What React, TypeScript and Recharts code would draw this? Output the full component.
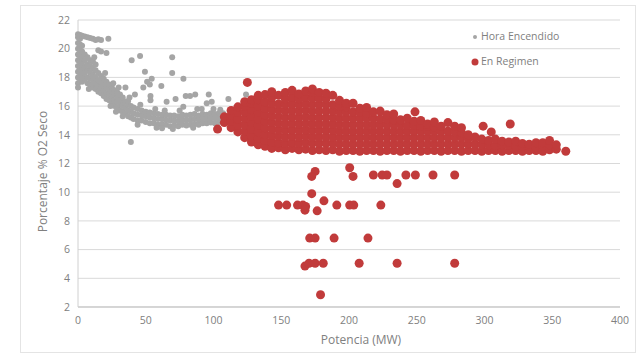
import React from "react";
import {
  ScatterChart,
  Scatter,
  XAxis,
  YAxis,
  CartesianGrid,
  Legend,
  Label,
} from "recharts";

// Potencia (MW) vs Porcentaje % O2 Seco.
// The dense clouds are listed as columns: [potencia, [o2, o2, ...]]

const horaEncendidoColumnas: [number, number[]][] = [
  [0, [17.6, 18.0, 18.4, 18.8, 19.2, 19.6, 20.0, 20.4, 20.8, 21.0]],
  [1.5, [17.9, 18.3, 18.7, 19.1, 19.5, 19.9, 20.3, 20.7, 20.95]],
  [3, [17.7, 18.1, 18.5, 18.9, 19.3, 19.8, 20.2, 20.9]],
  [5, [17.9, 18.3, 18.7, 19.2, 19.6, 20.85]],
  [7, [17.6, 18.0, 18.5, 18.9, 19.4, 20.8]],
  [9, [17.5, 17.9, 18.3, 18.8, 19.2, 20.75]],
  [11, [17.3, 17.8, 18.2, 18.6, 19.1, 20.7]],
  [13, [17.2, 17.6, 18.0, 18.5, 18.9, 20.6]],
  [15, [17.0, 17.4, 17.8, 18.3, 20.65]],
  [17, [16.9, 17.3, 17.7, 18.1, 20.6]],
  [19, [16.7, 17.1, 17.5, 17.9]],
  [21, [16.5, 16.9, 17.3, 17.7]],
  [23, [16.4, 16.8, 17.2, 17.5]],
  [25, [16.2, 16.6, 17.0, 17.3]],
  [27, [16.0, 16.4, 16.8, 17.1]],
  [29, [15.9, 16.3, 16.7, 16.95]],
  [31, [15.7, 16.1, 16.5, 16.8]],
  [33, [15.6, 16.0, 16.4, 16.6]],
  [35, [15.5, 15.9, 16.3]],
  [37, [15.3, 15.7, 16.1, 16.35]],
  [39, [15.2, 15.6, 16.0]],
  [41, [15.1, 15.5, 15.9]],
  [44, [15.0, 15.4, 15.8]],
  [47, [15.0, 15.35, 15.7]],
  [50, [14.9, 15.3, 15.6]],
  [53, [14.8, 15.2, 15.55]],
  [56, [14.8, 15.15, 15.5]],
  [59, [14.7, 15.1, 15.45]],
  [62, [14.75, 15.1, 15.4]],
  [65, [14.7, 15.05, 15.4]],
  [68, [14.6, 15.0, 15.35]],
  [71, [14.65, 15.0, 15.35]],
  [74, [14.6, 14.95, 15.3]],
  [77, [14.7, 15.05, 15.4]],
  [80, [14.65, 15.0, 15.35]],
  [83, [14.7, 15.05, 15.4]],
  [86, [14.75, 15.1, 15.45]],
  [89, [14.7, 15.05, 15.35]],
  [92, [14.8, 15.15, 15.45]],
  [95, [14.8, 15.1, 15.4]],
  [98, [14.85, 15.2, 15.5]],
  [101, [14.8, 15.15, 15.45]],
  [104, [14.9, 15.2, 15.5]],
  [107, [14.9, 15.25, 15.5]],
  [110, [15.0, 15.3]],
  [113, [15.0, 15.35]],
];

const horaEncendidoSueltos: [number, number][] = [
  [22.4, 20.7], [15, 19.9], [17, 19.8], [21, 19.7], [39.6, 19.2], [45.8, 19.5],
  [69.5, 19.4], [49.4, 18.4], [69.5, 18.3], [77.8, 17.9], [54.4, 17.9], [51, 17.7],
  [48.2, 17.3], [53, 17.5], [61.5, 17.4], [35, 17.3], [42, 16.8], [53.5, 16.7],
  [53.5, 16.4], [65.4, 16.3], [72, 16.5], [79.5, 16.7], [82.7, 16.7], [86.5, 16.8],
  [96.5, 16.8], [111, 16.5], [124, 16.8], [77.7, 15.95], [88, 15.8], [91.3, 15.8],
  [95, 16.2], [98.7, 16.3], [39, 13.5], [0, 17.3],
  [20, 18.3], [26, 17.6], [30, 17.3], [33, 15.3], [44, 14.7], [58, 14.5], [64, 15.7],
  [70, 14.4], [75, 15.7], [85, 14.5], [100, 15.8], [105, 15.75], [28, 15.6], [38, 16.6],
  [46, 16.1], [57, 15.8], [8, 17.2], [12, 19.4], [24, 16.0], [62, 14.45],
];

const regimenColumnas: [number, number[]][] = [
  [108, [14.85, 15.25]],
  [113, [14.5, 14.95, 15.35, 15.7]],
  [118, [14.2, 14.65, 15.1, 15.55, 15.95]],
  [123, [13.8, 14.25, 14.7, 15.15, 15.6, 16.0, 16.3]],
  [128, [13.5, 13.95, 14.4, 14.85, 15.3, 15.75, 16.2, 16.45]],
  [133, [13.3, 13.75, 14.2, 14.65, 15.1, 15.55, 16.0, 16.45, 16.75]],
  [138, [13.2, 13.6, 14.05, 14.5, 14.95, 15.4, 15.85, 16.3, 16.8]],
  [143, [13.05, 13.5, 13.95, 14.4, 14.85, 15.3, 15.75, 16.2, 16.6, 17.0]],
  [148, [13.1, 13.45, 13.9, 14.35, 14.8, 15.25, 15.7, 16.15, 16.75]],
  [153, [12.95, 13.4, 13.85, 14.3, 14.75, 15.2, 15.65, 16.1, 16.5, 16.95]],
  [158, [13.05, 13.45, 13.9, 14.35, 14.8, 15.25, 15.7, 16.15, 16.6, 17.1]],
  [163, [12.95, 13.4, 13.85, 14.3, 14.75, 15.2, 15.65, 16.1, 16.5, 16.85]],
  [168, [13.0, 13.45, 13.9, 14.35, 14.8, 15.25, 15.7, 16.15, 16.6, 17.05]],
  [173, [12.9, 13.4, 13.85, 14.3, 14.75, 15.2, 15.65, 16.1, 16.55, 16.95, 17.2]],
  [178, [12.95, 13.4, 13.85, 14.3, 14.75, 15.2, 15.65, 16.1, 16.55, 16.95]],
  [183, [12.9, 13.4, 13.85, 14.3, 14.75, 15.2, 15.65, 16.1, 16.5, 16.9]],
  [188, [12.95, 13.4, 13.85, 14.3, 14.75, 15.2, 15.65, 16.1, 16.75]],
  [193, [12.85, 13.35, 13.8, 14.25, 14.7, 15.15, 15.6, 16.0, 16.4]],
  [198, [12.9, 13.35, 13.8, 14.25, 14.7, 15.15, 15.6, 15.95, 16.2]],
  [203, [12.9, 13.35, 13.8, 14.25, 14.7, 15.15, 15.6, 16.2]],
  [208, [12.85, 13.35, 13.8, 14.25, 14.7, 15.15, 15.55, 15.85]],
  [213, [12.9, 13.35, 13.8, 14.25, 14.7, 15.15, 15.5, 15.9]],
  [218, [12.9, 13.35, 13.8, 14.25, 14.7, 15.15, 15.6]],
  [223, [12.85, 13.35, 13.8, 14.25, 14.7, 15.1, 15.65]],
  [228, [12.9, 13.35, 13.8, 14.25, 14.7, 15.1, 15.4]],
  [233, [12.9, 13.35, 13.8, 14.25, 14.7, 15.05, 15.45]],
  [238, [12.85, 13.35, 13.8, 14.25, 14.7, 15.05]],
  [243, [12.9, 13.35, 13.8, 14.25, 14.65, 15.15]],
  [248, [12.9, 13.35, 13.8, 14.25, 14.65, 14.95]],
  [253, [12.85, 13.35, 13.8, 14.25, 14.6, 15.0]],
  [258, [12.9, 13.35, 13.8, 14.25, 14.6, 14.75]],
  [263, [12.9, 13.35, 13.8, 14.25, 14.55, 14.9]],
  [268, [12.85, 13.35, 13.8, 14.25, 14.6]],
  [273, [12.9, 13.35, 13.8, 14.25, 14.85]],
  [278, [12.9, 13.35, 13.8, 14.2, 14.6]],
  [283, [12.85, 13.35, 13.8, 14.15, 14.5]],
  [288, [12.9, 13.35, 13.75, 14.0]],
  [293, [12.9, 13.35, 13.85]],
  [298, [12.85, 13.3, 13.7]],
  [303, [12.9, 13.3, 13.6]],
  [308, [12.9, 13.25, 13.7]],
  [313, [12.85, 13.3, 13.55]],
  [318, [12.9, 13.25, 13.5]],
  [323, [12.9, 13.2, 13.55]],
  [328, [12.85, 13.2, 13.4]],
  [333, [12.9, 13.2, 13.35]],
  [338, [12.9, 13.15, 13.45]],
  [343, [12.85, 13.2, 13.45]],
  [348, [12.95, 13.3, 13.6]],
  [353, [13.0, 13.3]],
];

const regimenSueltos: [number, number][] = [
  [125, 17.65], [103, 14.4], [248.7, 15.6], [299, 14.6], [305, 14.2], [319, 14.75], [360, 12.85],
  [175, 11.45], [172.5, 11.1], [200.5, 11.7], [203, 11.1], [218, 11.2], [224.5, 11.2],
  [228, 11.2], [235.5, 10.6], [242, 11.2], [249, 11.2], [262, 11.2], [278, 11.2],
  [148, 9.1], [154, 9.1], [162, 9.1], [166, 9.1], [168, 9.0], [172.5, 9.9], [167.5, 8.75],
  [176.5, 8.7], [181.5, 9.4], [191, 9.1], [200.5, 9.1], [203.5, 9.1], [223.5, 9.1],
  [171, 6.8], [175, 6.8], [189, 6.8], [214, 6.8],
  [167.5, 4.85], [170.5, 5.05], [175, 5.05], [181, 5.05], [207.5, 5.05], [235.5, 5.05], [278, 5.05],
  [179, 2.85],
];

const xTicks = [0, 50, 100, 150, 200, 250, 300, 350, 400];
const yTicks = [2, 4, 6, 8, 10, 12, 14, 16, 18, 20, 22];

const GRIS = "#a5a5a5";
const ROJO = "#c13b3b";
const TEXTO = "#808080";
const FONT = "'Open Sans', sans-serif";

const toPoints = (cols: [number, number[]][], sueltos: [number, number][]) => [
  ...cols.flatMap(([x, ys]) => ys.map((y) => ({ x, y }))),
  ...sueltos.map(([x, y]) => ({ x, y })),
];

const horaEncendido = toPoints(horaEncendidoColumnas, horaEncendidoSueltos);
const enRegimen = toPoints(regimenColumnas, regimenSueltos);

const legendItems = [
  { name: "Hora Encendido", color: GRIS, r: 2 },
  { name: "En Regimen", color: ROJO, r: 3.5 },
];

const renderLegend = () => (
  <div style={{ fontFamily: FONT, fontSize: 10.5, color: TEXTO, lineHeight: "25px" }}>
    {legendItems.map((item) => (
      <div key={item.name} style={{ display: "flex", alignItems: "center" }}>
        <svg width={10} height={10}>
          <circle cx={5} cy={5} r={item.r} fill={item.color} />
        </svg>
        <span style={{ marginLeft: 1 }}>{item.name}</span>
      </div>
    ))}
  </div>
);

const YTitle = ({ viewBox }: any) => {
  const cx = viewBox.x + 42;
  const cy = viewBox.y + viewBox.height / 2 + 8;
  return (
    <text
      x={cx}
      y={cy}
      transform={`rotate(-90, ${cx}, ${cy})`}
      textAnchor="middle"
      dominantBaseline="central"
      fill={TEXTO}
      fontSize={12}
      fontFamily={FONT}
    >
      Porcentaje % O2 Seco
    </text>
  );
};

const dot = (color: string, r: number) => (props: any) =>
  <circle cx={props.cx} cy={props.cy} r={r} fill={color} />;

export default function App() {
  return (
    <div style={{ position: "absolute", left: 0, top: 0, width: 641, height: 354, background: "#fff" }}>
      <div
        style={{
          position: "absolute",
          left: 20,
          top: 5,
          width: 614,
          height: 346,
          border: "1px solid #e4e4e4",
        }}
      />
      <ScatterChart width={641} height={354} margin={{ top: 20, right: 21, bottom: 0, left: 0 }}>
        <CartesianGrid vertical={false} stroke="#d9d9d9" />
        <XAxis
          type="number"
          dataKey="x"
          domain={[0, 400]}
          ticks={xTicks}
          height={47}
          tickLine={false}
          axisLine={{ stroke: "#bfbfbf" }}
          tickMargin={4}
          tick={{ fontSize: 10.5, fill: TEXTO, fontFamily: FONT }}
        >
          <Label
            value="Potencia (MW)"
            position="insideBottom"
            offset={10}
            dx={12}
            fill={TEXTO}
            fontSize={12}
            fontFamily={FONT}
          />
        </XAxis>
        <YAxis
          type="number"
          dataKey="y"
          domain={[2, 22]}
          ticks={yTicks}
          width={78}
          tickLine={false}
          axisLine={{ stroke: "#d0d0d0" }}
          tick={{ fontSize: 10.5, fill: TEXTO, fontFamily: FONT }}
        >
          <Label content={<YTitle />} />
        </YAxis>
        <Legend
          content={renderLegend}
          layout="vertical"
          align="center"
          verticalAlign="middle"
          wrapperStyle={{ left: 470, top: 24, width: 140 }}
        />
        <Scatter
          name="Hora Encendido"
          data={horaEncendido}
          fill={GRIS}
          shape={dot(GRIS, 3)}
          isAnimationActive={false}
        />
        <Scatter
          name="En Regimen"
          data={enRegimen}
          fill={ROJO}
          shape={dot(ROJO, 4.5)}
          isAnimationActive={false}
        />
      </ScatterChart>
    </div>
  );
}
